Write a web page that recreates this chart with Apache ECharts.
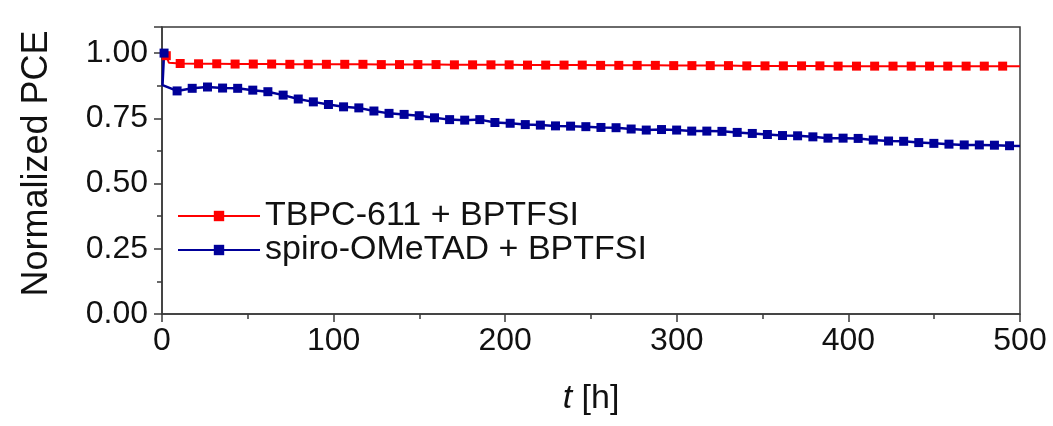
<!DOCTYPE html>
<html>
<head>
<meta charset="utf-8">
<script src="https://cdn.jsdelivr.net/npm/echarts@6/dist/echarts.min.js"></script>
<style>html,body{margin:0;padding:0;background:#fff}#c{width:1053px;height:426px}</style>
</head>
<body>
<div id="c"></div>
<script>
// ---- data ----
const seriesNames = ['TBPC-611 + BPTFSI', 'spiro-OMeTAD + BPTFSI'];
const xTickLabels = ['0', '100', '200', '300', '400', '500'];
const yTickLabels = ['0.00', '0.25', '0.50', '0.75', '1.00'];

const redTimes = [2.5, 4,
  10.6, 21.3, 31.9, 42.6, 53.2, 63.9, 74.5, 85.2, 95.8, 106.5,
  117.1, 127.8, 138.4, 149.1, 159.7, 170.4, 181.0, 191.7, 202.3, 213.0,
  223.6, 234.3, 244.9, 255.6, 266.2, 276.9, 287.5, 298.2, 308.8, 319.5,
  330.1, 340.8, 351.4, 362.1, 372.7, 383.4, 394.0, 404.7, 415.3, 426.0,
  436.6, 447.3, 457.9, 468.6, 479.2, 489.9,
  500];
const redValues = [0.990, 0.963,
  0.960, 0.959, 0.959, 0.958, 0.958, 0.958, 0.957, 0.957, 0.957, 0.957,
  0.957, 0.956, 0.956, 0.956, 0.956, 0.955, 0.955, 0.955, 0.955, 0.954,
  0.954, 0.954, 0.954, 0.953, 0.953, 0.953, 0.953, 0.952, 0.952, 0.952,
  0.952, 0.951, 0.951, 0.951, 0.951, 0.951, 0.950, 0.950, 0.950, 0.950,
  0.950, 0.950, 0.950, 0.950, 0.950, 0.950,
  0.950];
const redUnmarked = [4, 500];

const blueTimes = [1.2, 0.3,
  8.8, 17.6, 26.5, 35.3, 44.1, 52.9, 61.7, 70.6, 79.4, 88.2,
  97.0, 105.8, 114.7, 123.5, 132.3, 141.1, 149.9, 158.8, 167.6, 176.4,
  185.2, 194.0, 202.9, 211.7, 220.5, 229.3, 238.1, 247.0, 255.8, 264.6,
  273.4, 282.2, 291.1, 299.9, 308.7, 317.5, 326.3, 335.2, 344.0, 352.8,
  361.6, 370.4, 379.3, 388.1, 396.9, 405.7, 414.5, 423.4, 432.2, 441.0,
  449.8, 458.6, 467.5, 476.3, 485.1, 493.9,
  500];
const blueValues = [1.000, 0.877,
  0.855, 0.865, 0.870, 0.866, 0.865, 0.858, 0.852, 0.839, 0.824, 0.813,
  0.803, 0.794, 0.790, 0.778, 0.769, 0.765, 0.760, 0.752, 0.745, 0.743,
  0.745, 0.734, 0.731, 0.726, 0.724, 0.721, 0.720, 0.718, 0.715, 0.714,
  0.709, 0.705, 0.707, 0.705, 0.701, 0.701, 0.700, 0.696, 0.692, 0.688,
  0.684, 0.683, 0.679, 0.674, 0.674, 0.673, 0.667, 0.663, 0.662, 0.657,
  0.654, 0.651, 0.648, 0.648, 0.647, 0.645,
  0.644];
const blueUnmarked = [0.3, 500];

// ---- build ----
function build(times, values, unmarked) {
  return times.map((t, i) => {
    const item = { value: [t, values[i]] };
    if (unmarked.indexOf(t) >= 0) item.symbol = 'none';
    return item;
  });
}
const FONT = '"Liberation Sans", Arial, sans-serif';
const axisColor = '#3a3a3a';

const chart = echarts.init(document.getElementById('c'), null, { renderer: 'canvas' });
chart.setOption({
  animation: false,
  backgroundColor: '#ffffff',
  textStyle: { fontFamily: FONT },
  grid: {
    left: 162, right: 33, top: 27, bottom: 112,
    show: true, borderColor: axisColor, borderWidth: 1.5, backgroundColor: 'transparent'
  },
  legend: {
    orient: 'vertical',
    left: 172, top: 194,
    itemWidth: 82, itemHeight: 13, itemGap: 0,
    data: seriesNames,
    textStyle: { fontFamily: FONT, fontSize: 34, color: '#111', lineHeight: 33 }
  },
  xAxis: {
    type: 'value', min: 0, max: 500, interval: 100,
    name: '{i|t} [h]',
    nameLocation: 'middle', nameGap: 68,
    nameTextStyle: {
      fontFamily: FONT, fontSize: 34, color: '#111',
      rich: { i: { fontFamily: FONT, fontSize: 34, fontStyle: 'italic', color: '#111' } }
    },
    axisLine: { show: true, lineStyle: { color: axisColor, width: 1.5 } },
    axisTick: { show: true, inside: false, length: 8, lineStyle: { color: axisColor, width: 1.5 } },
    minorTick: { show: true, splitNumber: 2, length: 5, lineStyle: { color: axisColor, width: 1.5 } },
    splitLine: { show: false },
    axisLabel: {
      fontFamily: FONT, fontSize: 32, color: '#111', margin: 11,
      formatter: v => { const s = String(Math.round(v)); return xTickLabels.indexOf(s) >= 0 ? s : ''; }
    }
  },
  yAxis: {
    type: 'value', min: 0, max: 1.1, interval: 0.25,
    name: 'Normalized PCE',
    nameLocation: 'middle', nameGap: 107, nameRotate: 90,
    nameTextStyle: { fontFamily: FONT, fontSize: 36, color: '#111', padding: [0, 0, 0, 14] },
    axisLine: { show: true, lineStyle: { color: axisColor, width: 1.5 } },
    axisTick: { show: true, inside: false, length: 8, lineStyle: { color: axisColor, width: 1.5 } },
    minorTick: { show: true, splitNumber: 2, length: 5, lineStyle: { color: axisColor, width: 1.5 } },
    splitLine: { show: false },
    axisLabel: {
      fontFamily: FONT, fontSize: 32, color: '#111', margin: 14, showMaxLabel: false,
      formatter: v => { const s = v.toFixed(2); return yTickLabels.indexOf(s) >= 0 ? s : ''; }
    }
  },
  series: [
    {
      name: seriesNames[0], type: 'line',
      data: build(redTimes, redValues, redUnmarked),
      symbol: 'rect', symbolSize: 9,
      lineStyle: { color: '#ff0000', width: 2 },
      itemStyle: { color: '#ff0000' }
    },
    {
      name: seriesNames[1], type: 'line',
      data: build(blueTimes, blueValues, blueUnmarked),
      symbol: 'rect', symbolSize: 9,
      lineStyle: { color: '#000099', width: 2.5 },
      itemStyle: { color: '#000099' }
    }
  ]
});
</script>
</body>
</html>
